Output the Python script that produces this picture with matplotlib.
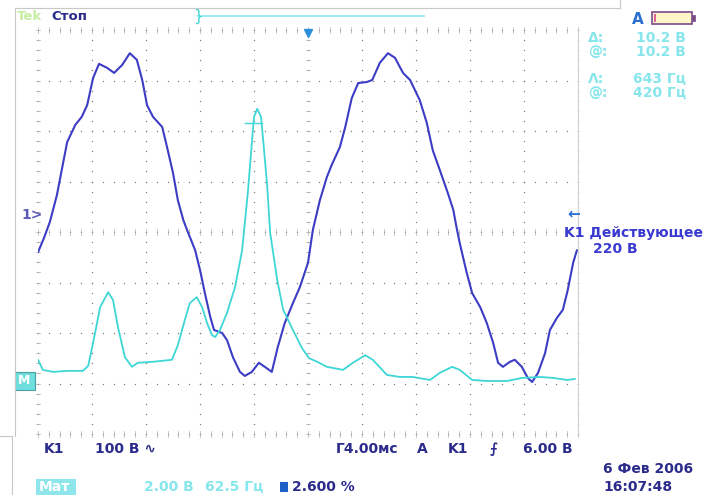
import numpy as np
import matplotlib
matplotlib.use('Agg')
import matplotlib.pyplot as plt
from matplotlib.patches import Rectangle

# screen size in pixels (figure is saved at dpi=100)
W, H = 706, 495

# K1 voltage trace: time (div, 4 ms/div) and level (div from bottom of screen)
k1_t = [0.00, 0.11, 0.22, 0.35, 0.44, 0.54, 0.69, 0.81, 0.91, 1.02, 1.13, 1.28,
        1.41, 1.56, 1.70, 1.83, 1.93, 2.02, 2.13, 2.30, 2.39, 2.50, 2.59, 2.69,
        2.76, 2.91, 3.00, 3.09, 3.19, 3.26, 3.41, 3.50, 3.61, 3.74, 3.83, 3.96,
        4.09, 4.20, 4.33, 4.44, 4.57, 4.72, 4.85, 5.00, 5.09, 5.22, 5.35, 5.44,
        5.59, 5.69, 5.81, 5.93, 6.09, 6.19, 6.33, 6.48, 6.61, 6.76, 6.89, 7.07,
        7.20, 7.31, 7.44, 7.59, 7.69, 7.76, 7.81, 7.94, 8.04, 8.19, 8.31, 8.43,
        8.52, 8.61, 8.74, 8.83, 8.96, 9.07, 9.15, 9.26, 9.39, 9.48, 9.61, 9.72,
        9.81, 9.91, 9.98]
k1_v = [3.60, 3.88, 4.20, 4.73, 5.23, 5.78, 6.12, 6.28, 6.51, 7.05, 7.33, 7.25,
        7.15, 7.31, 7.54, 7.41, 7.01, 6.51, 6.28, 6.08, 5.68, 5.17, 4.63, 4.24,
        4.04, 3.64, 3.25, 2.79, 2.32, 2.06, 2.00, 1.86, 1.52, 1.23, 1.15, 1.23,
        1.41, 1.33, 1.23, 1.72, 2.20, 2.59, 2.91, 3.39, 4.04, 4.63, 5.09, 5.33,
        5.68, 6.08, 6.65, 6.95, 6.97, 7.01, 7.35, 7.54, 7.45, 7.15, 7.01, 6.61,
        6.16, 5.62, 5.23, 4.77, 4.44, 4.04, 3.78, 3.19, 2.79, 2.51, 2.20, 1.80,
        1.41, 1.33, 1.43, 1.47, 1.33, 1.11, 1.03, 1.21, 1.60, 2.06, 2.30, 2.46,
        2.85, 3.39, 3.64]

# math (current) trace
m_t = [0.00, 0.09, 0.28, 0.54, 0.83, 0.93, 1.02, 1.15, 1.30, 1.39, 1.48, 1.61,
       1.74, 1.85, 2.13, 2.31, 2.48, 2.59, 2.72, 2.81, 2.94, 3.04, 3.13, 3.22,
       3.28, 3.37, 3.50, 3.65, 3.78, 3.89, 3.96, 4.00, 4.06, 4.13, 4.17, 4.24,
       4.30, 4.43, 4.54, 4.72, 4.89, 5.02, 5.17, 5.35, 5.65, 5.83, 6.06, 6.20,
       6.46, 6.70, 6.94, 7.26, 7.44, 7.67, 7.81, 8.04, 8.31, 8.69, 8.96, 9.30,
       9.54, 9.80, 9.94]
m_v = [1.47, 1.27, 1.23, 1.25, 1.25, 1.35, 1.80, 2.51, 2.81, 2.65, 2.12, 1.52,
       1.33, 1.41, 1.43, 1.45, 1.47, 1.76, 2.26, 2.59, 2.71, 2.51, 2.20, 1.96,
       1.92, 2.06, 2.40, 2.91, 3.64, 4.83, 5.76, 6.28, 6.44, 6.28, 5.82, 4.97,
       3.98, 3.05, 2.46, 2.06, 1.70, 1.50, 1.43, 1.33, 1.27, 1.41, 1.56, 1.47,
       1.17, 1.13, 1.13, 1.07, 1.21, 1.33, 1.27, 1.07, 1.05, 1.05, 1.11, 1.13,
       1.11, 1.07, 1.09]

# cursor readouts
cursor_labels = ['Δ:', '@:', 'Λ:', '@:']
cursor_values = ['10.2 В', '10.2 В', '643 Гц', '420 Гц']

BLUE = '#3c3cc4'
CYAN = '#3fd6d6'
NAVY = '#2b2b8c'
LCYAN = '#86e6ec'
GRID = '#7c7c7c'


def fx(px):
    return px / W


def fy(py):
    return 1 - py / H


fig = plt.figure(figsize=(W / 100, H / 100), dpi=100)
fig.patch.set_facecolor('white')

# graticule area: x 38..578 px, y 30..434 px
ax = fig.add_axes([fx(38), fy(434), 540 / W, 404 / H])
ax.set_xlim(0, 10)
ax.set_ylim(0, 8)
ax.axis('off')

# dotted graticule
minor = np.arange(0, 10.01, 0.2)
minor_y = np.arange(0, 8.01, 0.2)
for gx in range(11):
    ax.scatter(np.full(len(minor_y), gx), minor_y, s=1.0, c=GRID, lw=0,
               clip_on=False)
for gy in range(9):
    ax.scatter(minor, np.full(len(minor), gy), s=1.0, c=GRID, lw=0,
               clip_on=False)
# small tick marks on border and centre lines
for tx in minor:
    for base in (0, 8, 4):
        ax.plot([tx, tx], [base - 0.05, base + 0.05], color='#b0b0b0',
                lw=0.5, clip_on=False)
for ty in minor_y:
    for base in (0, 5):
        ax.plot([base - 0.04, base + 0.04], [ty, ty], color='#b0b0b0',
                lw=0.5, clip_on=False)
ax.plot([10, 10], [0, 8], color='#d0d0d0', lw=0.8, clip_on=False)

# traces
ax.plot(k1_t, k1_v, color=BLUE, lw=1.5, solid_capstyle='round')
ax.plot(m_t, m_v, color=CYAN, lw=1.3)
ax.plot([3.83, 4.15], [6.16, 6.16], color=CYAN, lw=1.0)

# trigger position marker at top centre
ax.plot([5], [7.95], marker='v', color='#2a8fd8', ms=6, clip_on=False)

# outer frame of screenshot
fig.add_artist(plt.Line2D([fx(15), fx(620)], [fy(8), fy(8)], color='#c8c8c8', lw=0.8))
fig.add_artist(plt.Line2D([fx(620), fx(620)], [fy(0), fy(8)], color='#c8c8c8', lw=0.8))
fig.add_artist(plt.Line2D([fx(15), fx(15)], [fy(8), fy(436)], color='#c8c8c8', lw=0.8))
fig.add_artist(plt.Line2D([fx(0), fx(12)], [fy(436), fy(436)], color='#c8c8c8', lw=0.8))
fig.add_artist(plt.Line2D([fx(12), fx(12)], [fy(436), fy(495)], color='#c8c8c8', lw=0.8))

# header
fig.text(fx(17), fy(16), 'Tek', color='#c6eea0', fontsize=9.5, fontweight='bold', va='center')
fig.text(fx(51), fy(16), 'Стоп', color=NAVY, fontsize=9.5, fontweight='bold', va='center')
fig.text(fx(193), fy(16), '}', color=CYAN, fontsize=11, va='center')
fig.add_artist(plt.Line2D([fx(198), fx(424)], [fy(16), fy(16)], color=LCYAN, lw=1.2))
fig.text(fx(632), fy(19), 'A', color='#2a6fd0', fontsize=11, fontweight='bold', va='center')
fig.add_artist(Rectangle((fx(652), fy(24)), 40 / W, 12 / H, facecolor='#fff6c8',
                         edgecolor='#7a4a8a', lw=1.2))
fig.add_artist(Rectangle((fx(692), fy(21)), 3 / W, 6 / H, facecolor='#7a4a8a',
                         edgecolor='#7a4a8a', lw=0.5))
fig.add_artist(Rectangle((fx(654), fy(22)), 2 / W, 8 / H, facecolor='#e060a0', lw=0))

# cursor readouts
for i, (lab, val) in enumerate(zip(cursor_labels, cursor_values)):
    py = [38, 52, 79, 93][i]
    fig.text(fx(588), fy(py), lab, color=LCYAN, fontsize=10, fontweight='bold', va='center')
    fig.text(fx(686), fy(py), val, color=LCYAN, fontsize=10, fontweight='bold',
             va='center', ha='right')

# channel markers
fig.text(fx(567), fy(214), '←', color='#2a6fd0', fontsize=11, fontweight='bold', va='center')
fig.text(fx(703), fy(233), 'K1 Действующее', color='#3a3ad0', fontsize=10,
         fontweight='bold', va='center', ha='right')
fig.text(fx(638), fy(249), '220 В', color='#3a3ad0', fontsize=10,
         fontweight='bold', va='center', ha='right')
fig.text(fx(21), fy(215), '1>', color='#5a5ab8', fontsize=10, fontweight='bold', va='center')
fig.add_artist(Rectangle((fx(15), fy(390)), 20 / W, 18 / H, facecolor='#6fdede',
                         edgecolor='#4aa0a0', lw=0.8))
fig.text(fx(18), fy(381), 'M', color='white', fontsize=9, fontweight='bold', va='center')

# bottom status lines
row1 = [(44, 'K1'), (95, '100 В ∿'), (336, 'Г4.00мс'), (417, 'A'), (448, 'K1'),
        (490, '⨍'), (523, '6.00 В')]
for px, s in row1:
    fig.text(fx(px), fy(449), s, color=NAVY, fontsize=10, fontweight='bold', va='center')

fig.add_artist(Rectangle((fx(36), fy(495)), 40 / W, 16 / H, facecolor='#8fe6ea', lw=0))
fig.text(fx(39), fy(487), 'Мат', color='white', fontsize=10, fontweight='bold', va='center')
fig.text(fx(144), fy(487), '2.00 В', color=LCYAN, fontsize=10, fontweight='bold', va='center')
fig.text(fx(205), fy(487), '62.5 Гц', color=LCYAN, fontsize=10, fontweight='bold', va='center')
fig.add_artist(Rectangle((fx(280), fy(492)), 8 / W, 10 / H, facecolor='#1e5fc8', lw=0))
fig.text(fx(292), fy(487), '2.600 %', color=NAVY, fontsize=10, fontweight='bold', va='center')
fig.text(fx(603), fy(469), '6 Фев 2006', color=NAVY, fontsize=10, fontweight='bold', va='center')
fig.text(fx(603), fy(487), '16:07:48', color=NAVY, fontsize=10, fontweight='bold', va='center')

fig.savefig('out.png', dpi=100)
